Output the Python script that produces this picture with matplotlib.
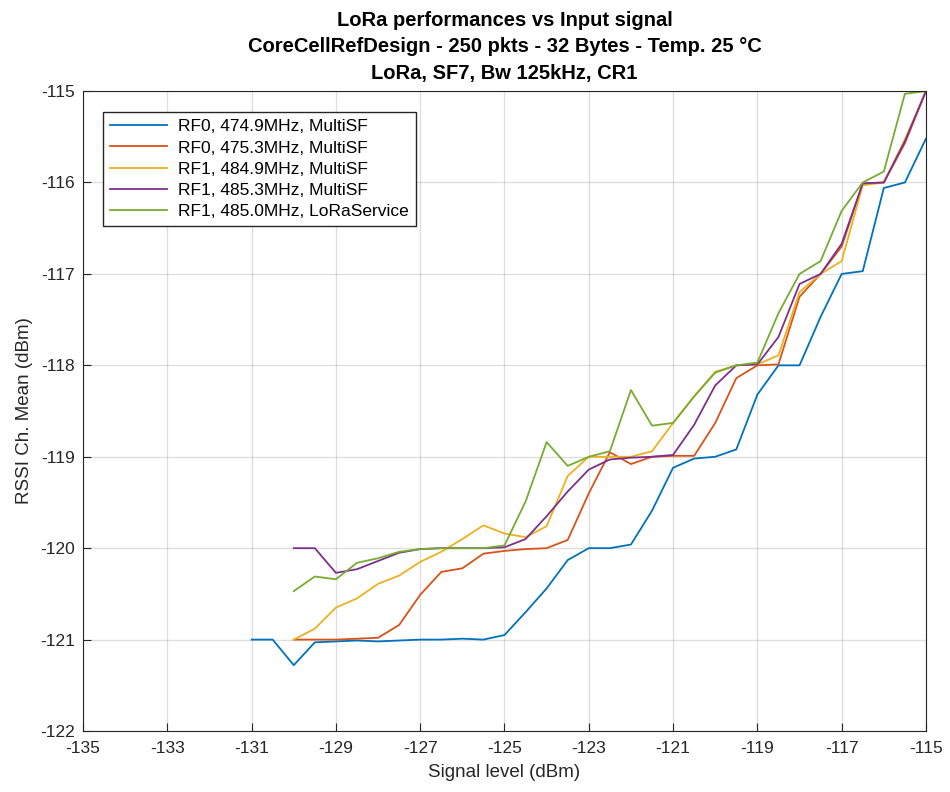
import matplotlib
matplotlib.use('Agg')
from matplotlib import pyplot as plt

plt.rcParams['font.family'] = ['Liberation Sans', 'DejaVu Sans']
plt.rcParams['axes.unicode_minus'] = False

# signal level steps (dBm)
x_blue = [-131, -130.5, -130, -129.5, -129, -128.5, -128, -127.5, -127, -126.5, -126,
          -125.5, -125, -124.5, -124, -123.5, -123, -122.5, -122, -121.5, -121, -120.5,
          -120, -119.5, -119, -118.5, -118, -117.5, -117, -116.5, -116, -115.5, -115]
x_rest = x_blue[2:]

rf0_4749 = [-121.0, -121.0, -121.28, -121.03, -121.02, -121.01, -121.02, -121.01, -121.0,
            -121.0, -120.99, -121.0, -120.95, -120.7, -120.44, -120.13, -120.0, -120.0,
            -119.96, -119.59, -119.12, -119.02, -119.0, -118.92, -118.32, -118.0, -118.0,
            -117.47, -117.0, -116.97, -116.06, -116.0, -115.52]
rf0_4753 = [-121.0, -121.0, -121.0, -120.99, -120.98, -120.84, -120.51, -120.26, -120.22,
            -120.06, -120.03, -120.01, -120.0, -119.91, -119.4, -118.95, -119.08, -119.0,
            -118.99, -118.99, -118.63, -118.14, -118.0, -117.99, -117.25, -117.0, -116.7,
            -116.01, -116.0, -115.57, -115.0]
rf1_4849 = [-121.0, -120.88, -120.65, -120.55, -120.39, -120.3, -120.15, -120.04, -119.9,
            -119.75, -119.84, -119.88, -119.76, -119.21, -119.0, -119.0, -119.0, -118.94,
            -118.63, -118.34, -118.07, -118.0, -117.99, -117.89, -117.2, -117.0, -116.86,
            -116.03, -116.0, -115.53, -115.0]
rf1_4853 = [-120.0, -120.0, -120.27, -120.23, -120.14, -120.05, -120.01, -120.0, -120.0,
            -120.0, -119.99, -119.9, -119.65, -119.38, -119.14, -119.03, -119.01, -119.0,
            -118.98, -118.65, -118.22, -118.0, -117.99, -117.69, -117.11, -117.0, -116.67,
            -116.01, -116.0, -115.55, -115.0]
rf1_4850 = [-120.47, -120.31, -120.34, -120.16, -120.11, -120.04, -120.01, -120.0, -120.0,
            -120.0, -119.97, -119.49, -118.84, -119.1, -119.0, -118.94, -118.27, -118.66,
            -118.63, -118.34, -118.08, -118.0, -117.97, -117.43, -117.0, -116.86, -116.31,
            -116.0, -115.88, -115.03, -115.0]

labels = ['RF0, 474.9MHz, MultiSF', 'RF0, 475.3MHz, MultiSF', 'RF1, 484.9MHz, MultiSF',
          'RF1, 485.3MHz, MultiSF', 'RF1, 485.0MHz, LoRaService']
colors = ['#0072BD', '#D95319', '#EDB120', '#7E2F8E', '#77AC30']

fig = plt.figure(figsize=(9.5, 7.92), dpi=100)
ax = fig.add_axes([0.0874, 0.077, 0.8873, 0.808])

ax.plot(x_blue, rf0_4749, c=colors[0], lw=1.3, label=labels[0])
ax.plot(x_rest, rf0_4753, c=colors[1], lw=1.3, label=labels[1])
ax.plot(x_rest, rf1_4849, c=colors[2], lw=1.3, label=labels[2])
ax.plot(x_rest, rf1_4853, c=colors[3], lw=1.3, label=labels[3])
ax.plot(x_rest, rf1_4850, c=colors[4], lw=1.3, label=labels[4])

# Format plot, matlab look
ax.set_xlim(-135, -115)
ax.set_ylim(-122, -115)
ax.set_xticks(range(-135, -114, 2))
ax.set_yticks(range(-122, -114, 1))
ax.grid(True, color='#262626', alpha=0.15, lw=1)
ax.tick_params(direction='in', labelsize=12.5, colors='#262626', length=6)
ax.tick_params(axis='x', pad=7)
ax.tick_params(axis='y', pad=6)
for s in ax.spines.values():
    s.set_color('#262626')
ax.set_xlabel('Signal level (dBm)', fontsize=13.5, color='#262626', labelpad=6)
ax.set_ylabel('RSSI Ch. Mean (dBm)', fontsize=13.5, color='#262626', labelpad=5)
ax.set_title('LoRa performances vs Input signal\n'
             'CoreCellRefDesign - 250 pkts - 32 Bytes - Temp. 25 \u00b0C\n'
             'LoRa, SF7, Bw 125kHz, CR1', fontsize=14.5, fontweight='bold',
             linespacing=1.5, pad=9,
             family=['Liberation Sans Narrow', 'Liberation Sans', 'DejaVu Sans'])

leg = ax.legend(loc='upper left', bbox_to_anchor=(0.024, 0.967), borderaxespad=0,
                fontsize=12.5, fancybox=False, framealpha=1, edgecolor='#262626',
                borderpad=0.4, handlelength=3.3, labelspacing=0.35, handletextpad=0.6)
leg.get_frame().set_linewidth(1)

fig.savefig('out.png')
